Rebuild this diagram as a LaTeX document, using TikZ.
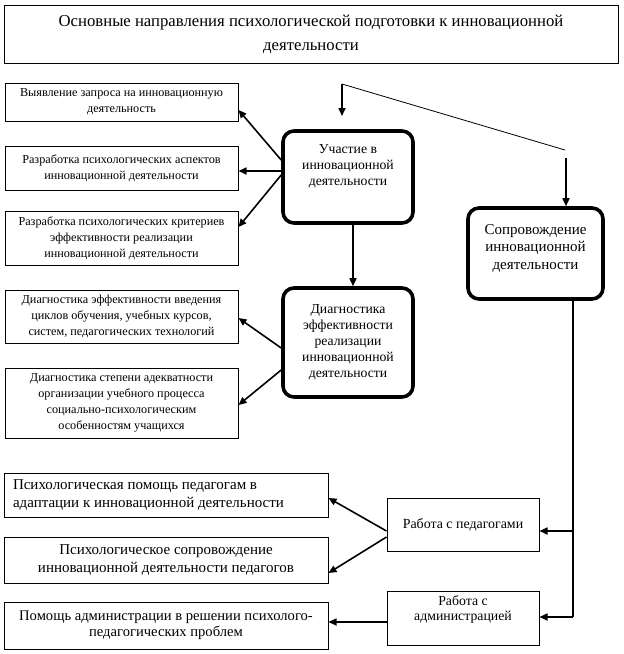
\documentclass[tikz,border=0pt]{standalone}
\usepackage{fontspec}
\setmainfont{Liberation Serif}
\usetikzlibrary{arrows.meta}
\begin{document}
\begin{tikzpicture}[x=1pt,y=-1pt,
  box/.style={draw, line width=1pt, inner sep=0pt, align=center},
  rbox/.style={draw, line width=3.6pt, rounded corners=11pt, inner sep=0pt},
  arr/.style={line width=1.6pt, -{Triangle[length=8pt,width=7pt]}},
  ln/.style={line width=1.4pt},
  small/.style={font=\fontsize{12.2}{16}\selectfont},
  mid/.style={font=\fontsize{13.7}{16}\selectfont},
]
\useasboundingbox (0,0) rectangle (624,654);
% title
\node[box, minimum width=614pt, minimum height=58pt, font=\fontsize{16.7}{24}\selectfont] (title) at (311,34)
  {Основные направления психологической подготовки к инновационной\\деятельности};
% left boxes
\node[box, small, minimum width=233pt, minimum height=38pt] (b1) at (121.5,102) {Выявление запроса на инновационную\\деятельность};
\node[box, small, minimum width=233pt, minimum height=44pt] (b2) at (121.5,168) {Разработка психологических аспектов\\инновационной деятельности};
\node[box, small, minimum width=233pt, minimum height=54pt] (b3) at (121.5,238) {Разработка психологических критериев\\эффективности реализации\\инновационной деятельности};
\node[box, small, minimum width=233pt, minimum height=53pt] (b4) at (121.5,316.5) {Диагностика эффективности введения\\циклов обучения, учебных курсов,\\систем, педагогических технологий};
\node[box, small, minimum width=233pt, minimum height=70pt] (b5) at (121.5,403) {Диагностика степени адекватности\\организации учебного процесса\\социально-психологическим\\особенностям учащихся};
% central rounded boxes
\node[rbox, minimum width=130pt, minimum height=92pt] (u) at (348,177) {};
\node[mid, align=center, inner sep=0pt] (ut) at (348,166) {Участие в\\инновационной\\деятельности};
\node[rbox, mid, align=center, minimum width=130pt, minimum height=109pt] (dg) at (348,342.5)
  {Диагностика\\эффективности\\реализации\\инновационной\\деятельности};
\node[rbox, minimum width=135pt, minimum height=91pt] (s) at (535.5,253.5) {};
\node[align=center, inner sep=0pt, font=\fontsize{15}{17.5}\selectfont] (st) at (535.5,248)
  {Сопровождение\\инновационной\\деятельности};
% bottom boxes
\node[box, minimum width=324pt, minimum height=44pt, align=left, font=\fontsize{15}{18}\selectfont] (pa) at (166,495)
  {\makebox[306pt][l]{Психологическая помощь педагогам в}\\\makebox[306pt][l]{адаптации к инновационной деятельности}};
\node[box, minimum width=324pt, minimum height=46pt, font=\fontsize{15}{18}\selectfont] (pb) at (166,560)
  {Психологическое сопровождение\\инновационной деятельности педагогов};
\node[box, minimum width=324pt, minimum height=47pt, font=\fontsize{14.6}{16}\selectfont] (pc) at (166,625.5)
  {Помощь администрации в решении психолого-\\педагогических проблем};
\node[box, minimum width=152pt, minimum height=53pt, font=\fontsize{13.9}{16}\selectfont] (r1) at (463,524.5)
  {Работа с педагогами};
\node[box, minimum width=152pt, minimum height=54pt, font=\fontsize{13.8}{15}\selectfont] (r2) at (463,618)
  {Работа с\\администрацией\\[4pt]};
% coordinates
\coordinate (top) at (342,84);
\coordinate (t1) at (342,116);
\coordinate (dd) at (565,150);
\coordinate (s1) at (566,158);
\coordinate (v) at (573,617);
% connectors
\draw[line width=0.8pt] (top) -- (dd);
\draw[arr] (top) -- (t1);
\draw[arr] (s1) -- (s.north -| s1);
\draw[arr] (353,223) coordinate (ua) -- (dg.north -| ua);
\draw[arr] (u.west |- 0,160) -- (b1.east |- 0,110);
\draw[arr] (u.west |- 0,171) -- (b2.east |- 0,171);
\draw[arr] (u.west |- 0,175) -- (b3.east |- 0,227);
\draw[arr] (dg.west |- 0,348) -- (b4.east |- 0,318);
\draw[arr] (dg.west |- 0,370) -- (b5.east |- 0,405);
\draw[ln] (s.south -| v) -- (v);
\draw[arr] (v |- 0,531) -- (r1.east |- 0,531);
\draw[arr] (v) -- (r2.east |- v);
\draw[arr] (r1.west |- 0,531) -- (pa.east |- 0,498);
\draw[arr] (r1.west |- 0,537) -- (pb.east |- 0,573);
\draw[arr] (r2.west |- 0,622) -- (pc.east |- 0,622);
\end{tikzpicture}
\end{document}
